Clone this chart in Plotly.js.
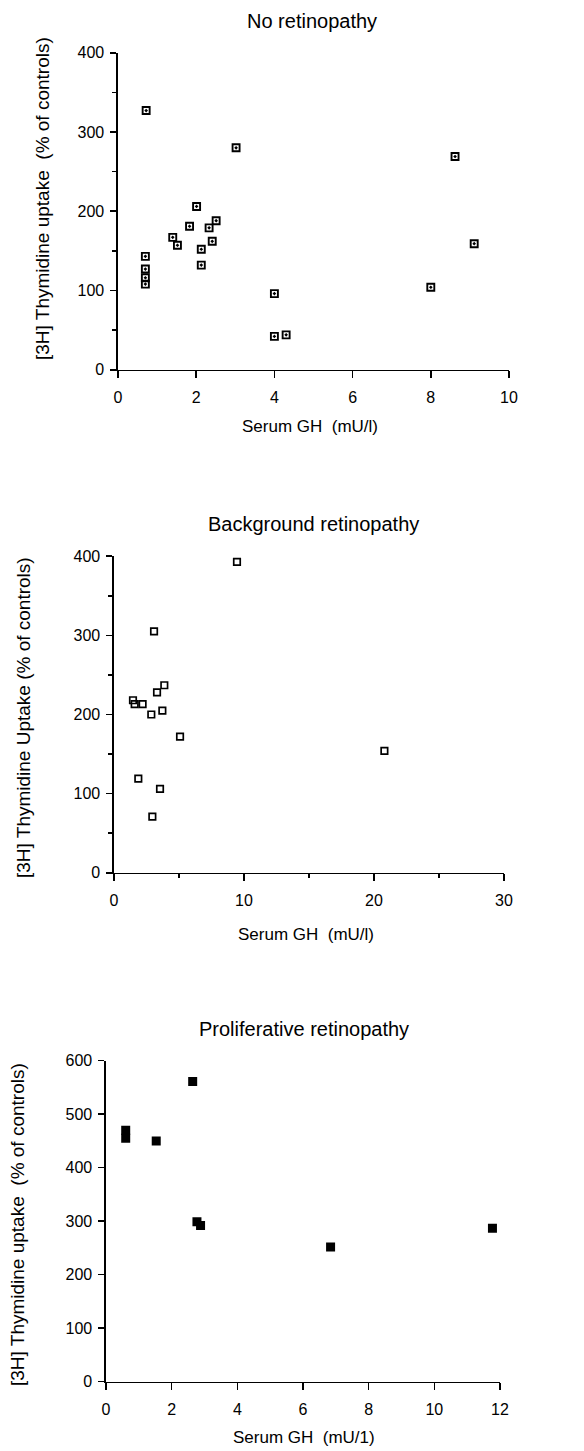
<!DOCTYPE html>
<html>
<head>
<meta charset="utf-8">
<script src="https://cdn.plot.ly/plotly-3.0.1.min.js"></script>
<style>html,body{margin:0;padding:0;background:#fff;}#chart{width:584px;height:1451px;}</style>
</head>
<body>
<div id="chart"></div>
<script>
// Panel 1: No retinopathy
const noRetGH = [0.72, 3.02, 8.62, 2.01, 1.83, 2.51, 2.33, 1.40, 1.52, 2.41, 2.13, 2.13, 0.70, 0.70, 0.70, 0.70, 9.11, 8.00, 4.00, 4.00, 4.30];
const noRetUptake = [327, 280, 269, 206, 181, 188, 179, 167, 157, 162, 152, 132, 143, 127, 116, 108, 159, 104, 96, 42, 44];
// Panel 2: Background retinopathy
const bgRetGH = [9.46, 3.08, 3.87, 3.31, 1.46, 1.59, 2.20, 2.87, 3.72, 5.08, 20.8, 1.87, 3.54, 2.95];
const bgRetUptake = [393, 305, 237, 228, 218, 213, 213, 200, 205, 172, 154, 119, 106, 71];
// Panel 3: Proliferative retinopathy
const proRetGH = [2.64, 0.60, 0.60, 1.53, 2.77, 2.88, 6.84, 11.77];
const proRetUptake = [561, 470, 455, 450, 299, 292, 252, 287];

const panelTitles = ["No retinopathy", "Background retinopathy", "Proliferative retinopathy"];
const xTitles = ["Serum GH  (mU/l)", "Serum GH  (mU/l)", "Serum GH  (mU/1)"];
const yTitles = ["[3H] Thymidine uptake  (% of controls)", "[3H] Thymidine Uptake (% of controls)", "[3H] Thymidine uptake  (% of controls)"];

const W = 584, H = 1451;
const FONT = "Liberation Sans, Arial, Helvetica, sans-serif";
const px = v => v / W;
const py = v => 1 - v / H;

const traces = [
  {x: noRetGH, y: noRetUptake, xaxis: 'x', yaxis: 'y', type: 'scatter', mode: 'markers',
   marker: {symbol: 'square-open-dot', size: 7, color: '#000', line: {color: '#000', width: 1.9}}},
  {x: bgRetGH, y: bgRetUptake, xaxis: 'x2', yaxis: 'y2', type: 'scatter', mode: 'markers',
   marker: {symbol: 'square-open', size: 6.5, color: '#000', line: {color: '#000', width: 1.7}}},
  {x: proRetGH, y: proRetUptake, xaxis: 'x3', yaxis: 'y3', type: 'scatter', mode: 'markers',
   marker: {symbol: 'square', size: 9, color: '#000', line: {width: 0}}}
];

function xa(domain, range, dtick, minor) {
  const a = {domain: domain, range: range, dtick: dtick, tick0: 0, showgrid: false, zeroline: false,
    showline: true, linecolor: '#000', linewidth: 1.6, ticks: 'outside', ticklen: 7, tickwidth: 1.6,
    tickcolor: '#000', ticklabelstandoff: 5, tickfont: {family: FONT, size: 16, color: '#000'}, fixedrange: true};
  if (minor) a.minor = {dtick: minor, ticks: 'outside', ticklen: 4, tickwidth: 1.4, tickcolor: '#000', showgrid: false};
  return a;
}
function ya(domain, range, anchor, minor) {
  const a = {domain: domain, range: range, dtick: 100, tick0: 0, anchor: anchor, showgrid: false, zeroline: false,
    showline: true, linecolor: '#000', linewidth: 1.6, ticks: 'outside', ticklen: 6, tickwidth: 1.6,
    tickcolor: '#000', ticklabelstandoff: 3, tickfont: {family: FONT, size: 16, color: '#000'}, fixedrange: true};
  if (minor) a.minor = {dtick: minor, ticks: 'outside', ticklen: 4, tickwidth: 1.4, tickcolor: '#000', showgrid: false};
  return a;
}

const layout = {
  width: W, height: H,
  margin: {l: 0, r: 0, t: 0, b: 0},
  paper_bgcolor: '#fff', plot_bgcolor: '#fff',
  showlegend: false,
  xaxis: Object.assign(xa([px(118), px(509)], [0, 10], 2, null), {anchor: 'y'}),
  yaxis: ya([py(369.7), py(52.7)], [0, 400], 'x', 50),
  xaxis2: Object.assign(xa([px(114), px(504)], [0, 30], 10, 5), {anchor: 'y2'}),
  yaxis2: ya([py(872.7), py(556.3)], [0, 400], 'x2', 50),
  xaxis3: Object.assign(xa([px(106), px(500)], [0, 12], 2, null), {anchor: 'y3'}),
  yaxis3: ya([py(1381.7), py(1060.7)], [0, 600], 'x3', null),
  annotations: []
};

const titlePos = [[312, 21], [313, 524], [304, 1029]];
const xTitlePos = [[310, 426], [306, 934], [304, 1437]];
const yTitlePos = [[42, 199], [23, 718], [17, 1225]];
for (let i = 0; i < 3; i++) {
  layout.annotations.push({text: panelTitles[i], xref: 'paper', yref: 'paper', x: px(titlePos[i][0]), y: py(titlePos[i][1]),
    xanchor: 'center', yanchor: 'middle', showarrow: false, font: {family: FONT, size: 20, color: '#000'}});
  layout.annotations.push({text: xTitles[i], xref: 'paper', yref: 'paper', x: px(xTitlePos[i][0]), y: py(xTitlePos[i][1]),
    xanchor: 'center', yanchor: 'middle', showarrow: false, font: {family: FONT, size: 17, color: '#000'}});
  layout.annotations.push({text: yTitles[i], xref: 'paper', yref: 'paper', x: px(yTitlePos[i][0]), y: py(yTitlePos[i][1]),
    xanchor: 'center', yanchor: 'middle', textangle: -90, showarrow: false, font: {family: FONT, size: 19, color: '#000'}});
}

Plotly.newPlot('chart', traces, layout, {displayModeBar: false, staticPlot: true});
</script>
</body>
</html>
